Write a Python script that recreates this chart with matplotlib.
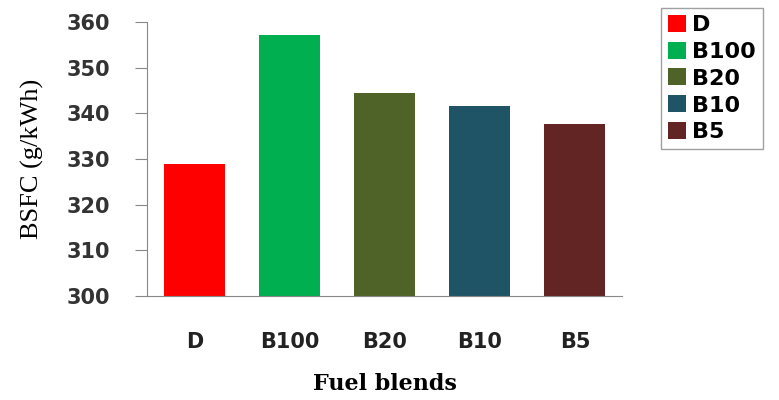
import matplotlib.pyplot as plt

blends = ['D', 'B100', 'B20', 'B10', 'B5']
bsfc = [328.9, 357.1, 344.5, 341.5, 337.7]
colors = ['#FF0000', '#00B050', '#4F6228', '#1F5466', '#632523']
yticks = [300, 310, 320, 330, 340, 350, 360]

fig = plt.figure(figsize=(7.79, 4.0), dpi=100)
ax = fig.add_axes([0.189, 0.26, 0.61, 0.685])

bars = ax.bar(range(len(blends)), [v - 300 for v in bsfc], bottom=300,
              width=0.64, color=colors, label=blends)

ax.set_xlim(-0.5, len(blends) - 0.5)
ax.set_ylim(300, 360)
ax.set_yticks(yticks)
ax.set_yticklabels([str(t) for t in yticks], fontsize=15, fontweight='bold',
                   family='DejaVu Sans', color='#333333')
ax.set_xticks(range(len(blends)))
ax.set_xticklabels(blends, fontsize=15, fontweight='bold',
                   family='DejaVu Sans', color='#222222')

for s in ['top', 'right']:
    ax.spines[s].set_visible(False)
for s in ['left', 'bottom']:
    ax.spines[s].set_color('#888888')
ax.tick_params(axis='y', length=9, color='#888888', pad=18)
ax.tick_params(axis='x', length=0, pad=26)

ax.set_ylabel('BSFC (g/kWh)', family='Liberation Serif', fontsize=19, labelpad=16)
ax.set_xlabel('Fuel blends', family='DejaVu Serif', fontsize=16,
              fontweight='bold', labelpad=15)

leg = fig.legend(bars, blends, loc='upper left', bbox_to_anchor=(0.849, 0.98),
                 borderaxespad=0,
                 prop={'family': 'DejaVu Sans', 'weight': 'bold', 'size': 16},
                 frameon=True, fancybox=False, handlelength=0.8,
                 handleheight=0.8, handletextpad=0.3, labelspacing=0.3,
                 borderpad=0.3)
leg.get_frame().set_edgecolor('#888888')
leg.get_frame().set_linewidth(1.0)

fig.savefig('out.png', dpi=100)
